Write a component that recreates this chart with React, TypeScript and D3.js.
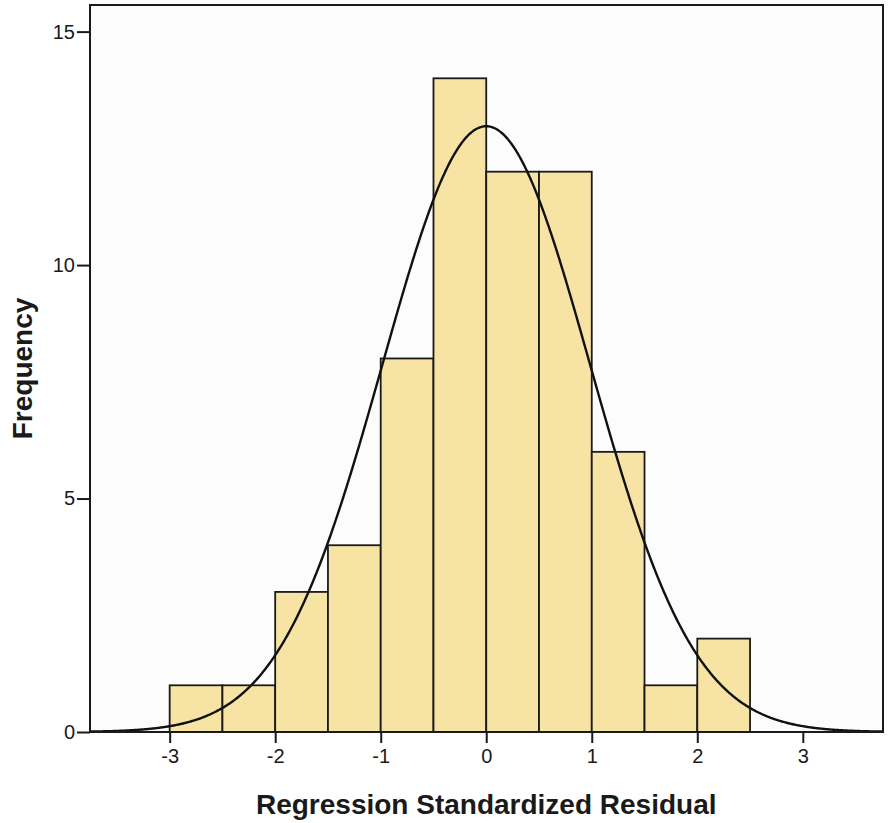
import {default as React, useEffect, useRef} from "react";
import * as d3 from "d3";

// histogram bins (lower edge) and counts
const binStarts = [-3, -2.5, -2, -1.5, -1, -0.5, 0, 0.5, 1, 1.5, 2];
const binWidth = 0.5;
const counts = [1, 1, 3, 4, 8, 14, 12, 12, 6, 1, 2];
const xTicks = [-3, -2, -1, 0, 1, 2, 3];
const yTicks = [0, 5, 10, 15];

// fitted normal curve parameters
const mean = 0;
const stdDev = 0.984;
const N = 64;

const width = 888;
const height = 823;
const margin = {left: 90, right: 5, top: 5, bottom: 91};

export default function App() {
    const ref = useRef<SVGSVGElement>(null);

    useEffect(() => {
        const svg = d3.select(ref.current);
        svg.selectAll("*").remove();

        const x = d3.scaleLinear().domain([-3.755, 3.76]).range([margin.left, width - margin.right]);
        const y = d3.scaleLinear().domain([0, 15.57]).range([height - margin.bottom, margin.top]);

        svg.append("rect")
            .attr("x", margin.left).attr("y", margin.top)
            .attr("width", width - margin.left - margin.right)
            .attr("height", height - margin.top - margin.bottom)
            .attr("fill", "#fcfcfc");

        svg.append("g")
            .selectAll("rect")
            .data(binStarts)
            .join("rect")
            .attr("x", d => x(d))
            .attr("width", d => x(d + binWidth) - x(d))
            .attr("y", (d, i) => y(counts[i]))
            .attr("height", (d, i) => y(0) - y(counts[i]))
            .attr("fill", "#f7e3a3")
            .attr("stroke", "#1a1a1a")
            .attr("stroke-width", 1.8);

        const pdf = (v: number) =>
            N * binWidth * Math.exp(-0.5 * ((v - mean) / stdDev) ** 2) / (stdDev * Math.sqrt(2 * Math.PI));
        const xs = d3.range(-3.755, 3.76, 0.01);
        svg.append("path")
            .datum(xs)
            .attr("fill", "none")
            .attr("stroke", "#111")
            .attr("stroke-width", 2.4)
            .attr("d", d3.line<number>().x(d => x(d)).y(d => y(pdf(d))).curve(d3.curveBasis));

        svg.append("rect")
            .attr("x", margin.left).attr("y", margin.top)
            .attr("width", width - margin.left - margin.right)
            .attr("height", height - margin.top - margin.bottom)
            .attr("fill", "none")
            .attr("stroke", "#1a1a1a")
            .attr("stroke-width", 2);

        const xAxis = svg.append("g")
            .attr("transform", `translate(0,${height - margin.bottom})`)
            .call(d3.axisBottom(x).tickValues(xTicks).tickFormat(d => String(d))
                .tickSize(11).tickSizeOuter(0).tickPadding(6));
        const yAxis = svg.append("g")
            .attr("transform", `translate(${margin.left},0)`)
            .call(d3.axisLeft(y).tickValues(yTicks).tickFormat(d => String(d))
                .tickSize(13).tickSizeOuter(0).tickPadding(2));

        for (const ax of [xAxis, yAxis]) {
            ax.attr("font-size", null).attr("font-family", null);
            ax.select(".domain").remove();
            ax.selectAll("line").attr("stroke", "#1a1a1a").attr("stroke-width", 2);
            ax.selectAll("text")
                .attr("fill", "#1a1a1a")
                .attr("font-family", "Liberation Sans, Arial, sans-serif")
                .attr("font-size", 20);
        }

        svg.append("text")
            .attr("x", x(0))
            .attr("y", 814)
            .attr("text-anchor", "middle")
            .style("font-family", "Liberation Sans, Arial, sans-serif")
            .style("font-size", "28px")
            .style("font-weight", "bold")
            .attr("fill", "#1a1a1a")
            .text("Regression Standardized Residual");

        svg.append("text")
            .attr("transform", `translate(32,${(margin.top + height - margin.bottom) / 2}) rotate(-90)`)
            .attr("text-anchor", "middle")
            .style("font-family", "Liberation Sans, Arial, sans-serif")
            .style("font-size", "28px")
            .style("font-weight", "bold")
            .attr("fill", "#1a1a1a")
            .text("Frequency");
    }, []);

    return (
        <svg
            ref={ref}
            width={width}
            height={height}
            style={{position: "absolute", left: 0, top: 0, backgroundColor: "white"}}
        />
    );
}
